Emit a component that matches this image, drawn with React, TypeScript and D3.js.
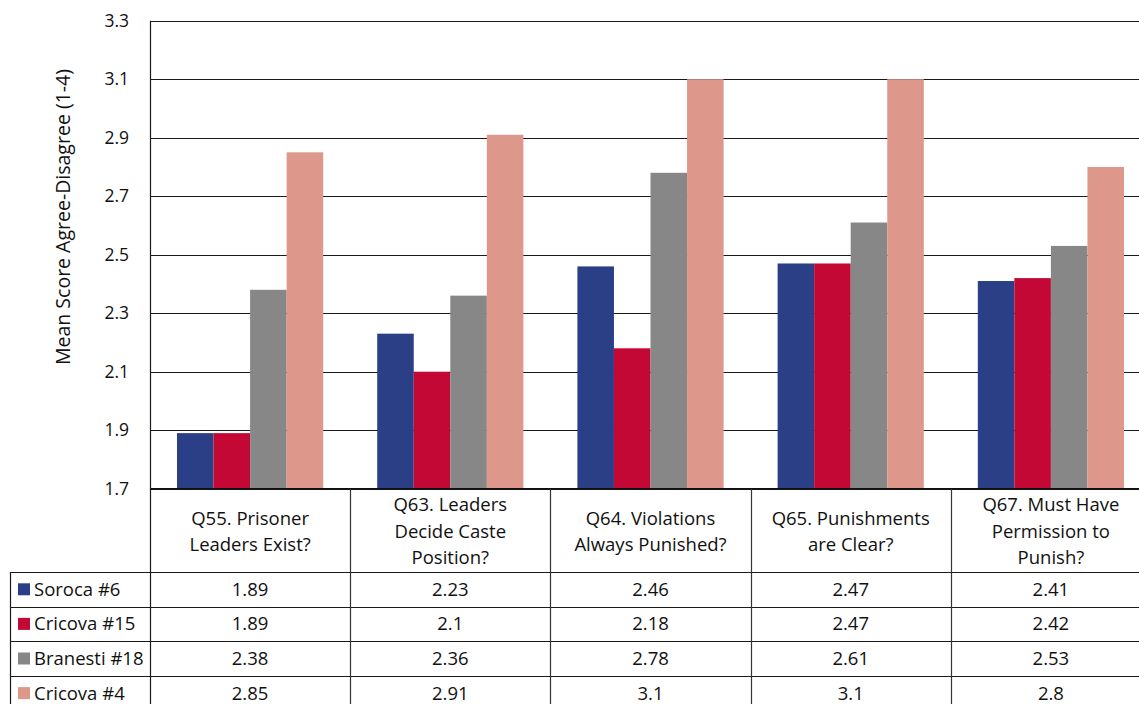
import React from "react";
import * as d3 from "d3";

const categories = [
  ["Q55. Prisoner", "Leaders Exist?"],
  ["Q63. Leaders", "Decide Caste", "Position?"],
  ["Q64. Violations", "Always Punished?"],
  ["Q65. Punishments", "are Clear?"],
  ["Q67. Must Have", "Permission to", "Punish?"],
];
const seriesNames = ["Soroca #6", "Cricova #15", "Branesti #18", "Cricova #4"];
const seriesColors = ["#2b3f87", "#c40836", "#878787", "#de978b"];
const soroca6 = [1.89, 2.23, 2.46, 2.47, 2.41];
const cricova15 = [1.89, 2.1, 2.18, 2.47, 2.42];
const branesti18 = [2.38, 2.36, 2.78, 2.61, 2.53];
const cricova4 = [2.85, 2.91, 3.1, 3.1, 2.8];
const seriesValues = [soroca6, cricova15, branesti18, cricova4];
const valueLabels = [
  ["1.89", "2.23", "2.46", "2.47", "2.41"],
  ["1.89", "2.1", "2.18", "2.47", "2.42"],
  ["2.38", "2.36", "2.78", "2.61", "2.53"],
  ["2.85", "2.91", "3.1", "3.1", "2.8"],
];
const yTicks = [1.7, 1.9, 2.1, 2.3, 2.5, 2.7, 2.9, 3.1, 3.3];
const yTitle = "Mean Score Agree-Disagree (1-4)";

const W = 1139;
const H = 704;
const FONT = "'Open Sans', sans-serif";
const TEXT = "#111";
const TABLE_FS = 18.5;

export default function App() {
  const plotLeft = 150;
  const plotRight = 1151;
  const plotTop = 20.7;
  const plotBottom = 488.7;
  const headerBottom = 572;
  const rowH = 34.6;
  const legendLeft = 10;

  const x0 = d3
    .scaleBand<number>()
    .domain(d3.range(categories.length))
    .range([plotLeft, plotRight])
    .padding(0);
  const bw = x0.bandwidth();
  const x1 = d3
    .scaleBand<number>()
    .domain(d3.range(seriesNames.length))
    .range([27, bw - 27])
    .padding(0);
  const y = d3.scaleLinear().domain([1.7, 3.3]).range([plotBottom, plotTop]);

  const rowTop = (i: number) => headerBottom + i * rowH;
  const tableBottom = rowTop(seriesNames.length) + 5;

  return (
    <svg
      width={W}
      height={H}
      style={{ position: "absolute", left: 0, top: 0, background: "#fff" }}
      fontFamily={FONT}
    >
      {/* grid lines */}
      {yTicks.map((t) => (
        <line
          key={"g" + t}
          x1={plotLeft}
          x2={W}
          y1={Math.round(y(t)) + 0.5}
          y2={Math.round(y(t)) + 0.5}
          stroke="#1a1a1a"
          strokeWidth={1}
        />
      ))}
      {/* y tick labels */}
      {yTicks.map((t) => (
        <text
          key={"t" + t}
          x={129}
          y={y(t)}
          dy="0.35em"
          textAnchor="end"
          fontSize={17.5}
          fill={TEXT}
        >
          {t.toFixed(1)}
        </text>
      ))}
      <text
        transform="translate(70,217) rotate(-90)"
        textAnchor="middle"
        fontSize={19.5}
        fill={TEXT}
      >
        {yTitle}
      </text>

      {/* bars */}
      {seriesValues.map((vals, si) =>
        vals.map((v, ci) => (
          <rect
            key={`b${si}-${ci}`}
            x={(x0(ci) ?? 0) + (x1(si) ?? 0)}
            y={y(v)}
            width={x1.bandwidth()}
            height={plotBottom - y(v)}
            fill={seriesColors[si]}
          />
        ))
      )}

      {/* table horizontal lines */}
      <line x1={plotLeft} x2={W} y1={plotBottom} y2={plotBottom} stroke="#111" strokeWidth={1.5} />
      {d3.range(seriesNames.length + 1).map((i) => (
        <line
          key={"h" + i}
          x1={legendLeft}
          x2={W}
          y1={Math.round(rowTop(i)) + 0.5}
          y2={Math.round(rowTop(i)) + 0.5}
          stroke="#1a1a1a"
          strokeWidth={1.2}
        />
      ))}
      {/* table vertical lines */}
      <line x1={legendLeft + 0.5} x2={legendLeft + 0.5} y1={headerBottom} y2={tableBottom} stroke="#1a1a1a" strokeWidth={1.2} />
      <line x1={plotLeft + 0.5} x2={plotLeft + 0.5} y1={plotTop} y2={tableBottom} stroke="#1a1a1a" strokeWidth={1.2} />
      {d3.range(1, categories.length + 1).map((ci) => {
        const xx = Math.round(plotLeft + ci * bw) + 0.5;
        return (
          <line key={"v" + ci} x1={xx} x2={xx} y1={plotBottom} y2={tableBottom} stroke="#333" strokeWidth={1.2} />
        );
      })}

      {/* header labels */}
      {categories.map((lines, ci) => {
        const cx = (x0(ci) ?? 0) + bw / 2;
        const lh = 26.5;
        const mid = (plotBottom + headerBottom) / 2 + 1;
        const start = mid - ((lines.length - 1) * lh) / 2;
        return (
          <text key={"c" + ci} textAnchor="middle" fontSize={TABLE_FS} fill={TEXT}>
            {lines.map((l, li) => (
              <tspan key={li} x={cx} y={start + li * lh} dy="0.35em">
                {l}
              </tspan>
            ))}
          </text>
        );
      })}

      {/* legend column and values */}
      {seriesNames.map((name, si) => {
        const cy = rowTop(si) + rowH / 2;
        return (
          <g key={"r" + si}>
            <rect x={18} y={cy - 6} width={12} height={12} fill={seriesColors[si]} />
            <text x={34} y={cy} dy="0.35em" fontSize={TABLE_FS} fill={TEXT}>
              {name}
            </text>
            {valueLabels[si].map((lab, ci) => (
              <text
                key={ci}
                x={(x0(ci) ?? 0) + bw / 2}
                y={cy}
                dy="0.35em"
                textAnchor="middle"
                fontSize={TABLE_FS}
                fill={TEXT}
              >
                {lab}
              </text>
            ))}
          </g>
        );
      })}
    </svg>
  );
}
